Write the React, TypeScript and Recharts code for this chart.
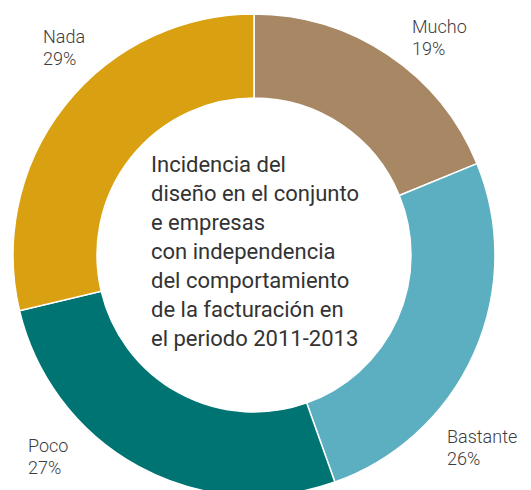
import { Label, Pie, PieChart, Cell } from "recharts";

const categories = ["Mucho", "Bastante", "Poco", "Nada"];
const shares = [19, 26, 27, 29];
const colors = ["#A88764", "#5BAFC0", "#007472", "#D9A011"];
const centerLines = [
  "Incidencia del",
  "diseño en el conjunto",
  "e empresas",
  "con independencia",
  "del comportamiento",
  "de la facturación en",
  "el periodo 2011-2013",
];

// label placement relative to pie centre (layout only)
const labelOffsets = [
  { dx: 158, dy: -222 },
  { dx: 193, dy: 188 },
  { dx: -226, dy: 197 },
  { dx: -211, dy: -212 },
];

const data = categories.map((name, i) => ({ name, value: shares[i] }));

const FONT = "Roboto, 'Noto Sans', sans-serif";
const CX = 254;
const CY = 255;

function renderLabel(props: any) {
  const { cx, cy, index } = props;
  const o = labelOffsets[index];
  const x = cx + o.dx;
  const y = cy + o.dy;
  return (
    <text x={x} y={y} fill="#3d3d3d" fontFamily={FONT} fontWeight={300} fontSize={18} textAnchor="start">
      <tspan x={x} dy={0}>{categories[index]}</tspan>
      <tspan x={x} dy={22}>{shares[index]}%</tspan>
    </text>
  );
}

function CenterText() {
  const x = CX - 103;
  return (
    <text x={x} y={CY - 83} fill="#333" fontFamily={FONT} fontSize={22} textAnchor="start">
      {centerLines.map((l, i) => (
        <tspan key={i} x={x} dy={i === 0 ? 0 : 29}>{l}</tspan>
      ))}
    </text>
  );
}

export default function App() {
  return (
    <div style={{ position: "absolute", left: 0, top: 0, width: 531, height: 490, background: "#fff" }}>
      <PieChart width={531} height={490} margin={{ top: 0, right: 0, bottom: 0, left: 0 }}>
        <Pie
          data={data}
          dataKey="value"
          nameKey="name"
          cx={CX}
          cy={CY}
          innerRadius={157}
          outerRadius={241}
          startAngle={90}
          endAngle={-270}
          stroke="#fff"
          strokeWidth={1.5}
          label={renderLabel}
          labelLine={false}
          isAnimationActive={false}
        >
          {data.map((d, i) => (
            <Cell key={d.name} fill={colors[i]} />
          ))}
          <Label content={() => <CenterText />} position="center" />
        </Pie>
      </PieChart>
    </div>
  );
}
